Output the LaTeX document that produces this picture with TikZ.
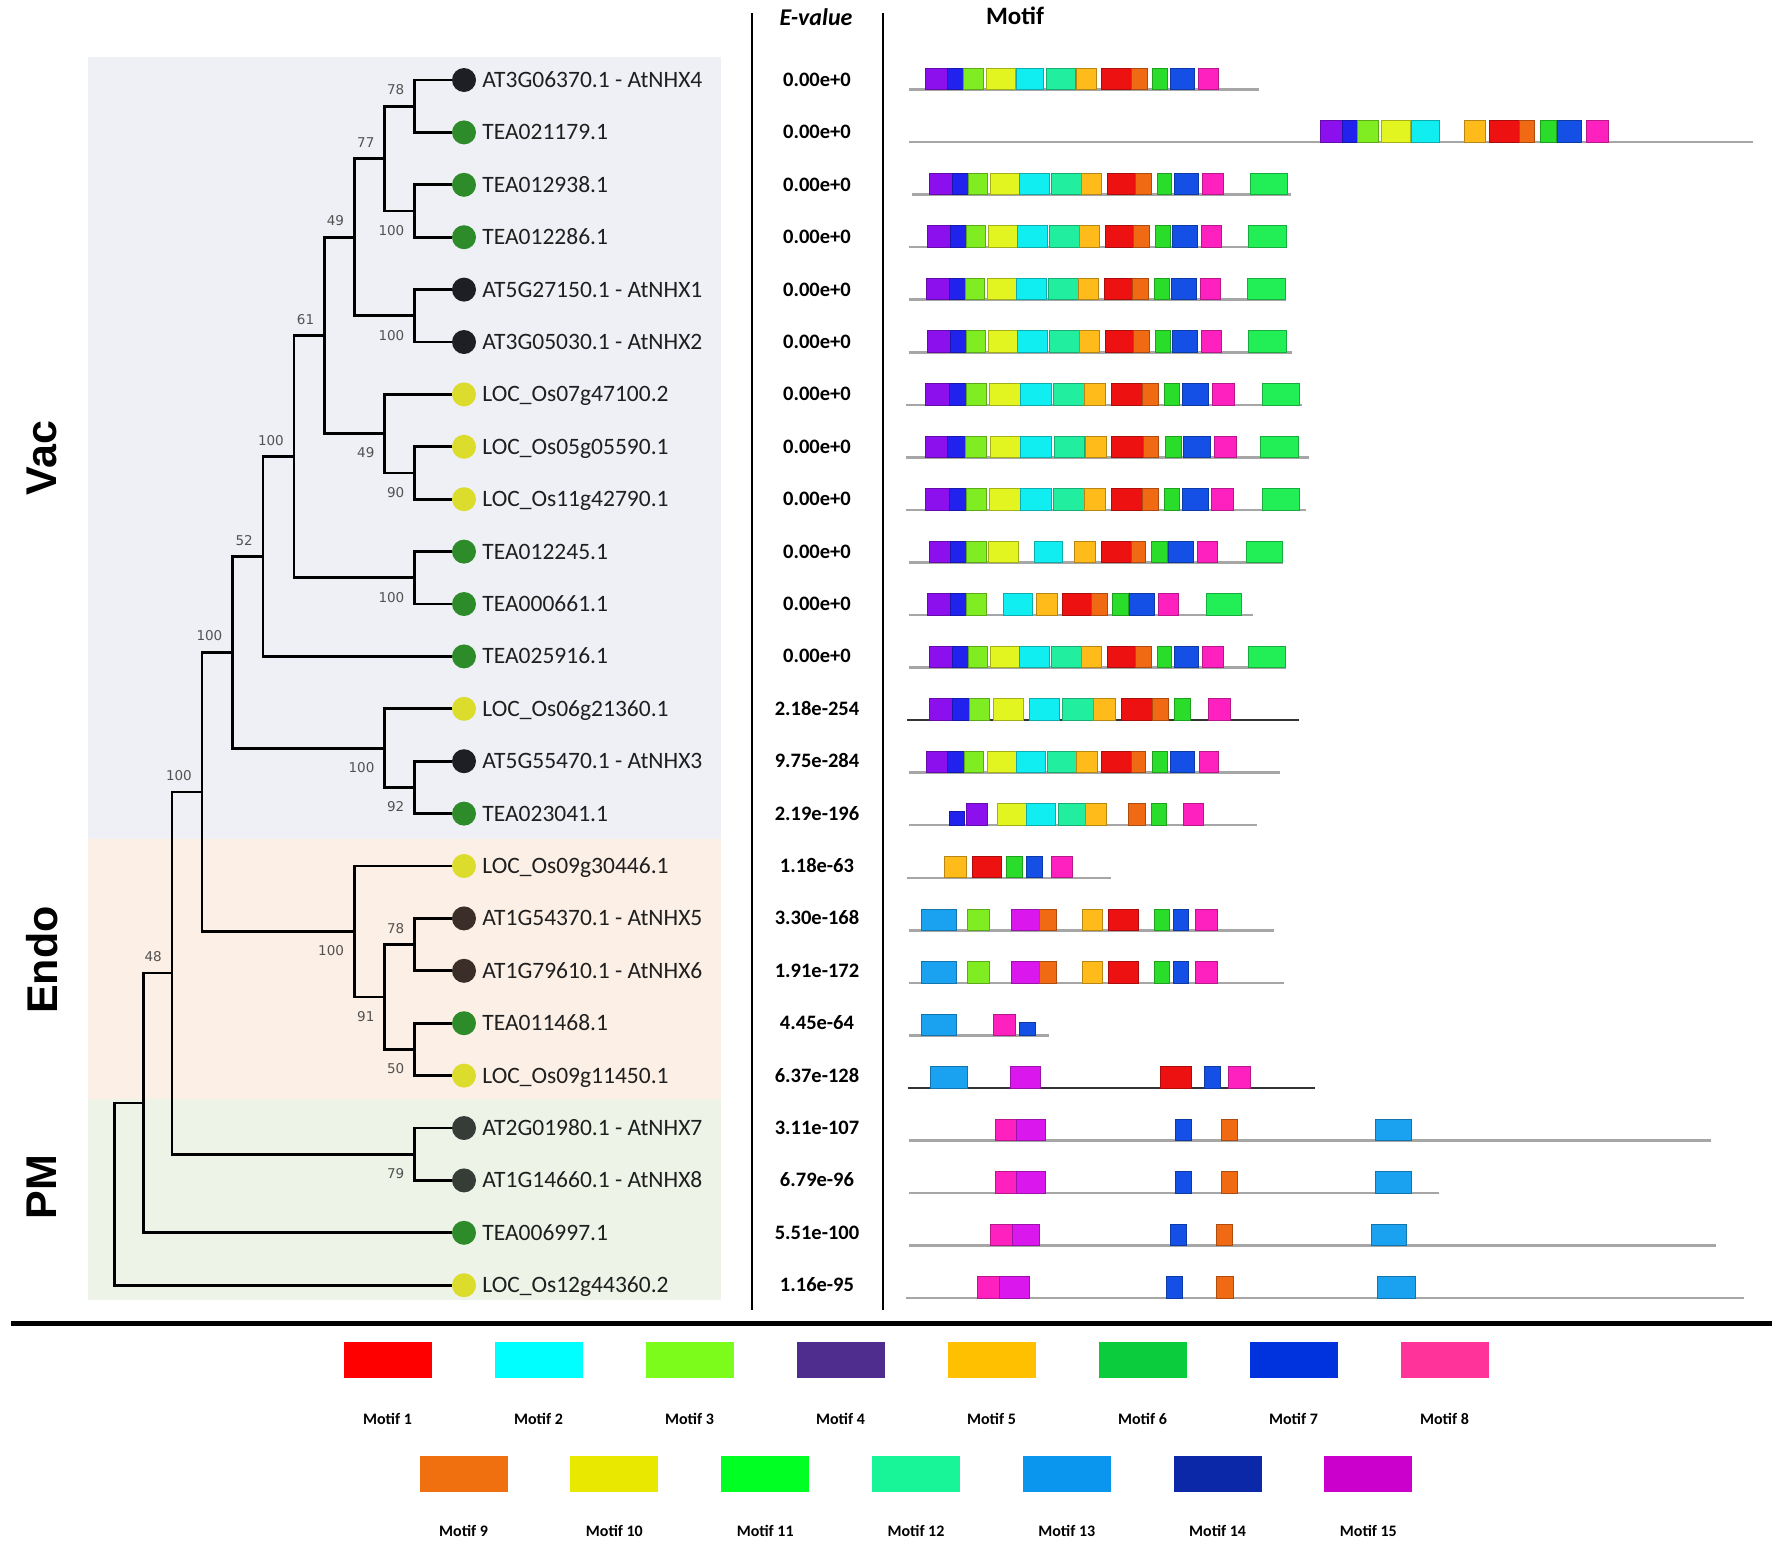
\documentclass[tikz,border=0pt]{standalone}
\usepackage{fontspec}
\setmainfont{Carlito}
\newfontfamily\bootfont{DejaVu Sans}
\newfontfamily\cladefont{Liberation Sans}
\usetikzlibrary{positioning}

% panels and leaf dots
\definecolor{vacbg}{HTML}{EEF0F5}
\definecolor{endobg}{HTML}{FCEFE6}
\definecolor{pmbg}{HTML}{EDF3E7}
\definecolor{atdot}{HTML}{1E1F25}
\definecolor{atbdot}{HTML}{3B2E28}
\definecolor{atgdot}{HTML}{363C36}
\definecolor{teadot}{HTML}{2E8B2A}
\definecolor{osdot}{HTML}{DCDC2C}
% motif colours in the tracks
\definecolor{m1}{HTML}{EE1111}
\definecolor{m2}{HTML}{11EEF2}
\definecolor{m3}{HTML}{80EC22}
\definecolor{m4}{HTML}{8C10EE}
\definecolor{m5}{HTML}{FFBB1A}
\definecolor{m6}{HTML}{22EE55}
\definecolor{m7}{HTML}{1450E6}
\definecolor{m8}{HTML}{FF20C0}
\definecolor{m9}{HTML}{F06A14}
\definecolor{m10}{HTML}{E2F520}
\definecolor{m11}{HTML}{2ADD2A}
\definecolor{m12}{HTML}{22EEA0}
\definecolor{m13}{HTML}{1AA2F0}
\definecolor{m14}{HTML}{2222EE}
\definecolor{m15}{HTML}{DA18EE}

% one motif track: row, line from, line to, boxes
\newcommand{\motifrow}[5][trk]{%
  \pgfmathsetmacro{\rowy}{89.5+52.55*(#2-1)}
  \draw[#1] (#3,\rowy) -- (#4,\rowy);
  \foreach \m/\p/\q in {#5}
    \draw[mbox=\m] (\p,\rowy) rectangle (\q,{\rowy-21.5});
}
\newcommand{\lowbox}[5]{%
  \pgfmathsetmacro{\rowy}{89.5+52.55*(#1-1)}
  \draw[mbox=#2] (#3,\rowy) rectangle (#4,{\rowy-#5});
}

\begin{document}
\begin{tikzpicture}[
  x=1pt, y=-1pt,
  branch/.style={line width=2.8pt},
  leafdot/.style={circle, minimum size=24pt, inner sep=0pt},
  leaflab/.style={inner sep=0pt, text height=15pt, text depth=0pt, font=\fontsize{23.5}{26}\selectfont, text=black!88},
  evtext/.style={inner sep=0pt, text height=13pt, text depth=0pt, font=\fontsize{20.5}{24}\selectfont\bfseries},
  boot/.style={inner sep=0pt, font=\bootfont\fontsize{13.5}{15}\selectfont, text=black!68},
  clade/.style={rotate=90, font=\cladefont\bfseries\fontsize{43}{48}\selectfont},
  trk/.style={draw=black!35, line width=2.5pt},
  trkdark/.style={draw=black!80, line width=2pt},
  mbox/.style={fill=m#1, draw=m#1!72!black, line width=0.6pt},
  legbox/.style={minimum width=88pt, minimum height=36pt, inner sep=0pt},
  legtext/.style={inner sep=0pt, text height=11pt, text depth=0pt, font=\fontsize{16}{18}\selectfont\bfseries},
  colline/.style={line width=2.8pt}
]
\useasboundingbox (0,0) rectangle (1772,1548);

% location panels
\fill[vacbg] (88,56.5) rectangle (721,838.5);
\fill[endobg] (88,838.5) rectangle (721,1098.5);
\fill[pmbg] (88,1098.5) rectangle (721,1300);
\node[clade] (vac) at (42,458) {Vac};
\node[clade] (endo) at (42,960) {Endo};
\node[clade] (pm) at (42,1187) {PM};

% headers and rules
\node[font=\fontsize{24}{28}\selectfont\bfseries\itshape] (evhead) at (816,17) {E-value};
\node[font=\fontsize{25}{28}\selectfont\bfseries] (mothead) at (1015,16) {Motif};
\draw[colline] (752,13) -- (752,1310);
\draw[colline] (883,13) -- (883,1310);
\draw[line width=5pt] (11,1323) -- (1772,1323);

% leaves
\foreach \lab/\col/\ev [count=\i] in {
  AT3G06370.1 - AtNHX4/atdot/0.00e+0,
  TEA021179.1/teadot/0.00e+0,
  TEA012938.1/teadot/0.00e+0,
  TEA012286.1/teadot/0.00e+0,
  AT5G27150.1 - AtNHX1/atdot/0.00e+0,
  AT3G05030.1 - AtNHX2/atdot/0.00e+0,
  LOC\_Os07g47100.2/osdot/0.00e+0,
  LOC\_Os05g05590.1/osdot/0.00e+0,
  LOC\_Os11g42790.1/osdot/0.00e+0,
  TEA012245.1/teadot/0.00e+0,
  TEA000661.1/teadot/0.00e+0,
  TEA025916.1/teadot/0.00e+0,
  LOC\_Os06g21360.1/osdot/2.18e-254,
  AT5G55470.1 - AtNHX3/atdot/9.75e-284,
  TEA023041.1/teadot/2.19e-196,
  LOC\_Os09g30446.1/osdot/1.18e-63,
  AT1G54370.1 - AtNHX5/atbdot/3.30e-168,
  AT1G79610.1 - AtNHX6/atbdot/1.91e-172,
  TEA011468.1/teadot/4.45e-64,
  LOC\_Os09g11450.1/osdot/6.37e-128,
  AT2G01980.1 - AtNHX7/atgdot/3.11e-107,
  AT1G14660.1 - AtNHX8/atgdot/6.79e-96,
  TEA006997.1/teadot/5.51e-100,
  LOC\_Os12g44360.2/osdot/1.16e-95}{
  \node[leafdot, fill=\col] (l\i) at (464,{80+52.4*(\i-1)}) {};
  \node[leaflab, right=6pt of l\i] (t\i) {\lab};
  \node[evtext] (e\i) at (817,{80+52.4*(\i-1)}) {\ev};
}

% inner nodes of the tree
\coordinate (nA) at (414.5,106.2);
\coordinate (nB) at (414.5,211);
\coordinate (nC) at (384.6,158.6);
\coordinate (nD) at (414.5,315.8);
\coordinate (nE) at (354.2,237.2);
\coordinate (nF) at (414.5,473);
\coordinate (nG) at (384.6,433.7);
\coordinate (nH) at (324.3,335.5);
\coordinate (nI) at (414.5,577.8);
\coordinate (nJ) at (294,456.6);
\coordinate (nK) at (263,556.5);
\coordinate (nL) at (384.6,748.1);
\coordinate (nM) at (414.5,787.4);
\coordinate (nN) at (232.5,652.3);
\coordinate (nO) at (202,791.9);
\coordinate (nP) at (354.2,931.5);
\coordinate (nQ) at (384.6,997);
\coordinate (nR) at (414.5,944.6);
\coordinate (nS) at (414.5,1049.4);
\coordinate (nT) at (414.5,1154.2);
\coordinate (nU) at (172,973);
\coordinate (nV) at (143.5,1102.9);
\coordinate (nW) at (114.8,1194);

\foreach \pnode/\cnode in {nA/l1, nA/l2, nB/l3, nB/l4, nC/nA, nC/nB, nD/l5, nD/l6,
    nE/nC, nE/nD, nF/l8, nF/l9, nG/l7, nG/nF, nH/nE, nH/nG, nI/l10, nI/l11,
    nJ/nH, nJ/nI, nK/nJ, nK/l12, nM/l14, nM/l15, nL/l13, nL/nM, nN/nK, nN/nL,
    nR/l17, nR/l18, nS/l19, nS/l20, nQ/nR, nQ/nS, nP/l16, nP/nQ, nO/nN, nO/nP,
    nT/l21, nT/l22, nU/nO, nU/nT, nV/nU, nV/l23, nW/nV, nW/l24}
  \draw[branch] (\pnode) |- (\cnode);

% bootstrap values
\foreach \n/\v in {nA/78, nC/77, nE/49, nH/61, nJ/100, nK/52, nN/100, nO/100, nR/78, nU/48}
  \node[boot, above left=11pt and 10pt of \n] (b\n) {\v};
\foreach \n/\v in {nB/100, nD/100, nF/90, nG/49, nI/100, nL/100, nM/92, nP/100, nQ/91, nS/50, nT/79}
  \node[boot, below left=14pt and 10pt of \n] (b\n) {\v};

% motif tracks
\motifrow{1}{908.7}{1259}{4/924.8/947.7, 14/947.7/963.2, 3/963.2/983.3, 10/986.2/1014.9, 2/1016/1043.6, 12/1046.5/1075.2, 5/1076.3/1096.4, 1/1101/1130.9, 9/1130.9/1146.9, 11/1152.7/1167, 7/1169.9/1194.6, 8/1198.6/1218.7}
\motifrow{2}{908.7}{1752.6}{4/1320.3/1342.1, 14/1342.1/1357.6, 3/1357.6/1378.3, 10/1381.2/1409.9, 2/1411/1439.7, 5/1464.4/1485.6, 1/1489.7/1518.9, 9/1518.9/1534.4, 11/1540.2/1556.2, 7/1557.4/1581.5, 8/1586.1/1607.9}
\motifrow{3}{911.6}{1290.5}{4/928.8/951.8, 14/951.8/967.8, 3/967.8/987.3, 10/990.2/1019.5, 2/1019.5/1049.3, 12/1051/1081, 5/1081/1101, 1/1106.8/1135.5, 9/1135.5/1151, 11/1156.8/1171.6, 7/1174/1198.6, 8/1202.6/1223.3, 6/1250.3/1287.6}
\motifrow{4}{908.7}{1286.4}{4/927/950, 14/950/966, 3/966/985.5, 10/988.4/1017.7, 2/1017.7/1047.5, 12/1049.2/1079.2, 5/1079.2/1099.2, 1/1105/1133.7, 9/1133.7/1149.2, 11/1155/1169.8, 7/1172.2/1196.8, 8/1200.8/1221.5, 6/1248.5/1285.8}
\motifrow{5}{908.7}{1286.4}{4/926/949, 14/949/965, 3/965/984.5, 10/987.4/1016.7, 2/1016.7/1046.5, 12/1048.2/1078.2, 5/1078.2/1098.2, 1/1104/1132.7, 9/1132.7/1148.2, 11/1154/1168.8, 7/1171.2/1195.8, 8/1199.8/1220.5, 6/1247.5/1284.8}
\motifrow{6}{908.7}{1292}{4/927/950, 14/950/966, 3/966/985.5, 10/988.4/1017.7, 2/1017.7/1047.5, 12/1049.2/1079.2, 5/1079.2/1099.2, 1/1105/1133.7, 9/1133.7/1149.2, 11/1155/1169.8, 7/1172.2/1196.8, 8/1200.8/1221.5, 6/1248.5/1285.8}
\motifrow{7}{905.8}{1302}{4/924.8/949, 14/949/965.8, 3/965.8/986.2, 10/989.3/1020, 2/1020/1051.3, 12/1053.1/1084.6, 5/1084.6/1105.6, 1/1111.7/1141.8, 9/1141.8/1158.1, 11/1164.2/1179.7, 7/1182.3/1208.1, 8/1212.3/1234, 6/1262.4/1299.5}
\motifrow{8}{905.8}{1309.4}{4/924.8/947.7, 14/947.7/965, 3/965/986.2, 10/990.2/1020.6, 2/1020.6/1051, 12/1054/1083.8, 5/1085/1106.7, 1/1111.3/1142.9, 9/1142.9/1158.4, 11/1165.3/1181.4, 7/1183.1/1210.1, 8/1214.1/1235.9, 6/1260/1297.9}
\motifrow{9}{905.8}{1306}{4/924.8/949, 14/949/965.8, 3/965.8/986.2, 10/989.3/1020, 2/1020/1051.3, 12/1053.1/1084.6, 5/1084.6/1105.6, 1/1111.7/1141.8, 9/1141.8/1158.1, 11/1164.2/1179.7, 7/1182.3/1208.1, 8/1211/1233, 6/1262.4/1299.5}
\motifrow{10}{908.7}{1283}{4/928.8/950, 14/950/966.1, 3/966.1/986.2, 10/987.9/1017.8, 2/1033.8/1062.5, 5/1074/1095.3, 1/1101/1130.9, 9/1130.9/1145.2, 11/1151/1167, 7/1168.2/1192.9, 8/1196.9/1217.5, 6/1246.2/1281.8}
\motifrow{11}{908.7}{1253}{4/927/950, 14/950/966.1, 3/966.1/986.2, 2/1003.4/1032.1, 5/1036.1/1056.8, 1/1062.5/1091.3, 9/1091.3/1106.8, 11/1112.5/1128, 7/1129.7/1154.4, 8/1158.4/1178.5, 6/1206/1241.7}
\motifrow{12}{908.7}{1286.4}{4/928.8/951.8, 14/951.8/967.8, 3/967.8/987.3, 10/990.2/1019.5, 2/1019.5/1049.3, 12/1051/1081, 5/1081/1101, 1/1106.8/1135.5, 9/1135.5/1151, 11/1156.8/1171.6, 7/1174/1198.6, 8/1202.6/1223.3, 6/1248.5/1284.8}
\motifrow[trkdark]{13}{907}{1299}{4/928.8/951.8, 14/951.8/969, 3/969/989, 10/993/1023.5, 2/1029.3/1059.1, 12/1062.5/1093.5, 5/1093.5/1115.4, 1/1121.1/1152.7, 9/1152.7/1168.2, 11/1173.9/1190, 8/1208.4/1230.2}
\motifrow{14}{908.7}{1280}{4/926/947.7, 14/947.7/963.8, 3/963.8/983.3, 10/986.8/1016, 2/1016/1045.3, 12/1047.6/1076.3, 5/1076.3/1097, 1/1101.6/1130.9, 9/1130.9/1145.2, 11/1152.1/1167, 7/1169.9/1194.6, 8/1199.2/1218.7}
\motifrow{15}{908.7}{1257}{4/966.1/987.3, 10/997.7/1026.4, 2/1026.4/1055.1, 12/1058/1085.5, 5/1085.5/1106.7, 9/1128/1145.2, 11/1151/1165.9, 8/1183.1/1203.2}
\lowbox{15}{14}{948.9}{964.4}{14}
\motifrow{16}{907}{1111.3}{5/944.3/966.1, 1/971.8/1001.7, 11/1006.3/1022.4, 7/1026.4/1042.5, 8/1051/1072.3}
\motifrow{17}{908.7}{1274.4}{13/921.3/956.3, 3/967.3/989.1, 15/1010.9/1039.6, 9/1039.6/1056.2, 5/1082/1102.7, 1/1107.9/1138.3, 11/1153.8/1168.8, 7/1172.8/1188.3, 8/1195.7/1217.5}
\motifrow{18}{908.7}{1283.6}{13/921.3/956.3, 3/967.3/989.1, 15/1010.9/1039.6, 9/1039.6/1056.2, 5/1082/1102.7, 1/1107.9/1138.3, 11/1153.8/1168.8, 7/1172.8/1188.3, 8/1195.7/1217.5}
\motifrow{19}{908.7}{1049.3}{13/921.3/956.3, 8/993.7/1014.9}
\lowbox{19}{7}{1019.5}{1035}{13}
\motifrow[trkdark]{20}{907.6}{1314.6}{13/930/967.3, 15/1010.3/1040.7, 1/1160.1/1191.7, 7/1204.3/1220.4, 8/1228.5/1250.3}
\motifrow{21}{908.7}{1710.7}{8/994.8/1016, 15/1016/1044.8, 7/1175.6/1191.1, 9/1221.6/1237.1, 13/1374.8/1411}
\motifrow{22}{908.7}{1438.5}{8/994.8/1016, 15/1016/1044.8, 7/1175.6/1191.1, 9/1221.6/1237.1, 13/1374.8/1411}
\motifrow{23}{908.7}{1716.4}{8/990.2/1012, 15/1012/1039.6, 7/1170.5/1186, 9/1216.4/1231.9, 13/1370.8/1406.4}
\motifrow{24}{905.8}{1744}{8/977.6/999.4, 15/999.4/1029.3, 7/1165.9/1182.5, 9/1216.4/1233, 13/1377.7/1415}

% legend
\foreach \k/\hex in {1/FF0000, 2/00FFFF, 3/7CFC1A, 4/4F2D8F, 5/FFC000, 6/0ACC3C, 7/0033DD, 8/FF3399}{
  \definecolor{legc}{HTML}{\hex}
  \node[legbox, fill=legc] (lg\k) at ({387.5+151*(\k-1)},1359.7) {};
  \node[legtext, below=35pt of lg\k] (lt\k) {Motif \k};
}
\foreach \k/\hex in {9/F07010, 10/E8E800, 11/00FF22, 12/18F598, 13/0A96EE, 14/0A28A8, 15/CC00CC}{
  \definecolor{legc}{HTML}{\hex}
  \node[legbox, fill=legc] (lg\k) at ({463.6+150.8*(\k-9)},1473.7) {};
  \node[legtext, below=33pt of lg\k] (lt\k) {Motif \k};
}
\end{tikzpicture}
\end{document}
